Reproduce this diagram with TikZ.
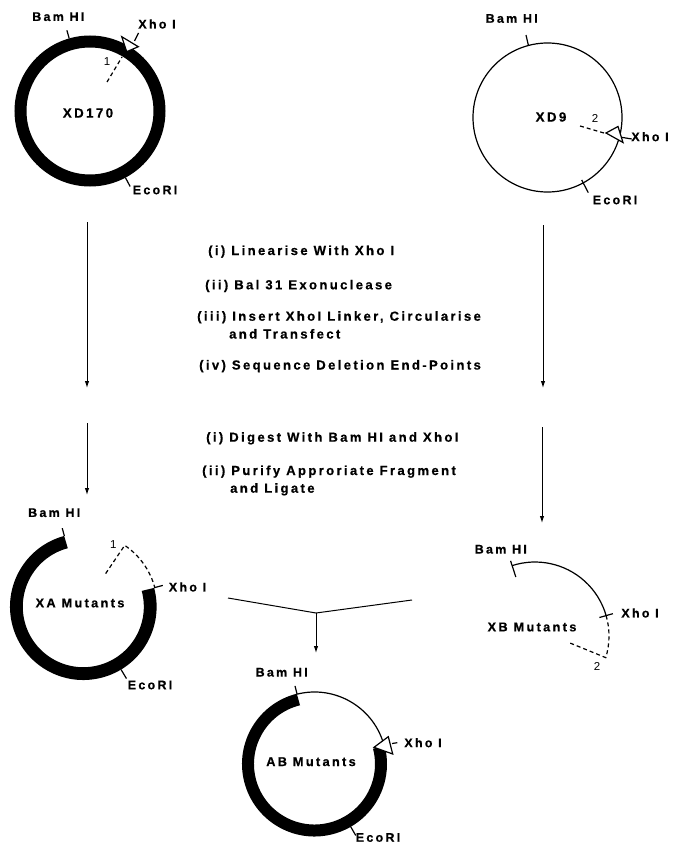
\documentclass[tikz,border=0pt]{standalone}
\usepackage{fontspec}
\setmainfont{Liberation Sans}
\newfontfamily\labfont[LetterSpace=18,FakeBold=0.6]{Liberation Sans Bold}
\usetikzlibrary{arrows.meta}
\tikzset{
  lab/.style={font=\labfont\fontsize{12.5}{14}\selectfont, inner sep=0pt},
  plasname/.style={font=\labfont\fontsize{13.3}{15}\selectfont, inner sep=0pt},
  mutname/.style={font=\labfont\fontsize{12.8}{14}\selectfont, inner sep=0pt},
  bodytext/.style={font=\labfont\fontsize{13.1}{15}\selectfont, inner sep=0pt, anchor=base west},
  numlab/.style={font=\fontsize{11.5}{13}\selectfont, inner sep=0pt},
  thinline/.style={line width=1.2pt},
  cutline/.style={line width=1.2pt, dash pattern=on 4pt off 3pt},
  flow/.style={line width=1pt, -{Latex[length=7pt,width=4.5pt]}},
  sitetri/.style={draw, fill=white, line width=1.2pt, line join=miter},
}
\begin{document}
\begin{tikzpicture}[x=1pt,y=1pt]
\useasboundingbox (0,0) rectangle (675,-843);

% ---------------- XD170 ----------------
\draw[line width=12pt] (90,-111) circle[radius=69.5];
\draw[thinline] (90,-111) ++(106:75.5) -- ++(106:8.5);
\draw[thinline] (90,-111) ++(-62:75.5) -- ++(-62:10);
\draw[cutline] (107,-82) -- (122,-57);
\draw[sitetri] (121.7,-36.7) -- (126.7,-51.7) -- (138.3,-46.7) -- cycle;
\draw[thinline] (134.5,-41) -- (138.5,-33);
\node[lab] (bam1) at (58.3,-16.7) {Bam HI};
\node[lab] (xho1) at (157,-24) {Xho I};
\node[lab] (eco1) at (155,-190) {EcoRI};
\node[plasname] (xd170) at (88,-113) {XD170};
\node[numlab] (n1) at (107,-62) {1};

% ---------------- XD9 ----------------
\draw[thinline] (547.5,-117.5) circle[radius=74.5];
\draw[thinline] (526,-35) -- (528.3,-45);
\draw[thinline] (581.7,-180) -- (588.3,-192.7);
\draw[cutline] (580,-126) -- (605,-133.3);
\draw[sitetri] (606,-133) -- (618,-126.5) -- (623,-142.5) -- cycle;
\draw[thinline] (621.5,-137.3) -- (631.7,-139);
\node[lab] (bam2) at (511.7,-18.5) {Bam HI};
\node[plasname] (xd9) at (551,-117) {XD9};
\node[lab] (xho2) at (650,-136.7) {Xho I};
\node[lab] (eco2) at (615,-200) {EcoRI};
\node[numlab] (n2) at (595,-118.3) {2};

% ---------------- process arrows ----------------
\coordinate (a1s) at (87,-222);
\coordinate (a1e) at (87,-388);
\coordinate (a2s) at (87,-423);
\coordinate (a2e) at (87,-495);
\coordinate (b1s) at (543,-225);
\coordinate (b1e) at (543,-388);
\coordinate (b2s) at (542,-427);
\coordinate (b2e) at (542,-523);
\draw[flow] (a1s) -- (a1e);
\draw[flow] (a2s) -- (a2e);
\draw[flow] (b1s) -- (b1e);
\draw[flow] (b2s) -- (b2e);

\node[bodytext] (t1) at (208,-255) {(i) Linearise With Xho I};
\node[bodytext] (t2) at (205,-289.3) {(ii) Bal 31 Exonuclease};
\node[bodytext] (t3) at (197,-320.7) {(iii) Insert XhoI Linker, Circularise};
\node[bodytext] (t4) at (229,-338.5) {and Transfect};
\node[bodytext] (t5) at (199,-369.5) {(iv) Sequence Deletion End-Points};
\node[bodytext] (t6) at (206,-441.7) {(i) Digest With Bam HI and XhoI};
\node[bodytext] (t7) at (202,-475) {(ii) Purify Approriate Fragment};
\node[bodytext] (t8) at (230,-492.7) {and Ligate};

% ---------------- XA Mutants ----------------
\draw[line width=12.8pt] (83.3,-606.7) ++(105:66.9) arc[start angle=105, end angle=375, radius=66.9];
\draw[thinline] (83.3,-606.7) ++(105:73.3) -- ++(105:8);
\draw[thinline] (83.3,-606.7) ++(15:73.3) -- ++(15:9);
\draw[thinline] (83.3,-606.7) ++(-59:73.3) -- ++(-59:10.5);
\draw[cutline] (83.3,-606.7) ++(56:40) -- ++(56:34)
  arc[start angle=56, end angle=15, radius=74];
\node[lab] (bam3) at (54.2,-512.7) {Bam HI};
\node[mutname] (xa) at (80,-603) {XA Mutants};
\node[lab] (xho3) at (187.5,-587) {Xho I};
\node[lab] (eco3) at (150,-685) {EcoRI};
\node[numlab] (n3) at (113.3,-545) {1};

% ---------------- combining lines ----------------
\coordinate (vl) at (228,-598);
\coordinate (vm) at (316,-613);
\coordinate (vr) at (412,-600);
\coordinate (ve) at (316,-653);
\draw[line width=1pt] (vl) -- (vm) -- (vr);
\draw[flow] (vm) -- (ve);

% ---------------- XB Mutants ----------------
\draw[thinline] (535,-636) ++(108:74) arc[start angle=108, end angle=16, radius=74];
\draw[thinline] (535,-636) ++(108:62) -- ++(108:17);
\draw[thinline] (535,-636) ++(16:67) -- ++(16:14);
\draw[cutline] (535,-636) ++(16:74) arc[start angle=16, end angle=-17, radius=74] -- (570,-643);
\node[lab] (bam4) at (500.8,-549.3) {Bam HI};
\node[mutname] (xb) at (532,-627) {XB Mutants};
\node[lab] (xho4) at (640,-613) {Xho I};
\node[numlab] (n4) at (597,-666) {2};

% ---------------- AB Mutants ----------------
\draw[line width=12pt] (314.5,-764) ++(104:66.5) arc[start angle=104, end angle=374.5, radius=66.5];
\draw[thinline] (314.5,-764) ++(14.5:72) arc[start angle=14.5, end angle=104, radius=72];
\draw[thinline] (314.5,-764) ++(104:72) -- ++(104:8.5);
\draw[thinline] (314.5,-764) ++(-60:72.5) -- ++(-60:10);
\draw[sitetri] (374,-747.3) -- (388.3,-736.7) -- (392.7,-754) -- cycle;
\draw[thinline] (392,-743.5) -- (397.3,-742.7);
\node[lab] (bam5) at (281.7,-672.3) {Bam HI};
\node[mutname] (ab) at (311,-761.7) {AB Mutants};
\node[lab] (xho5) at (423,-742.7) {Xho I};
\node[lab] (eco5) at (378,-837.5) {EcoRI};
\end{tikzpicture}
\end{document}
